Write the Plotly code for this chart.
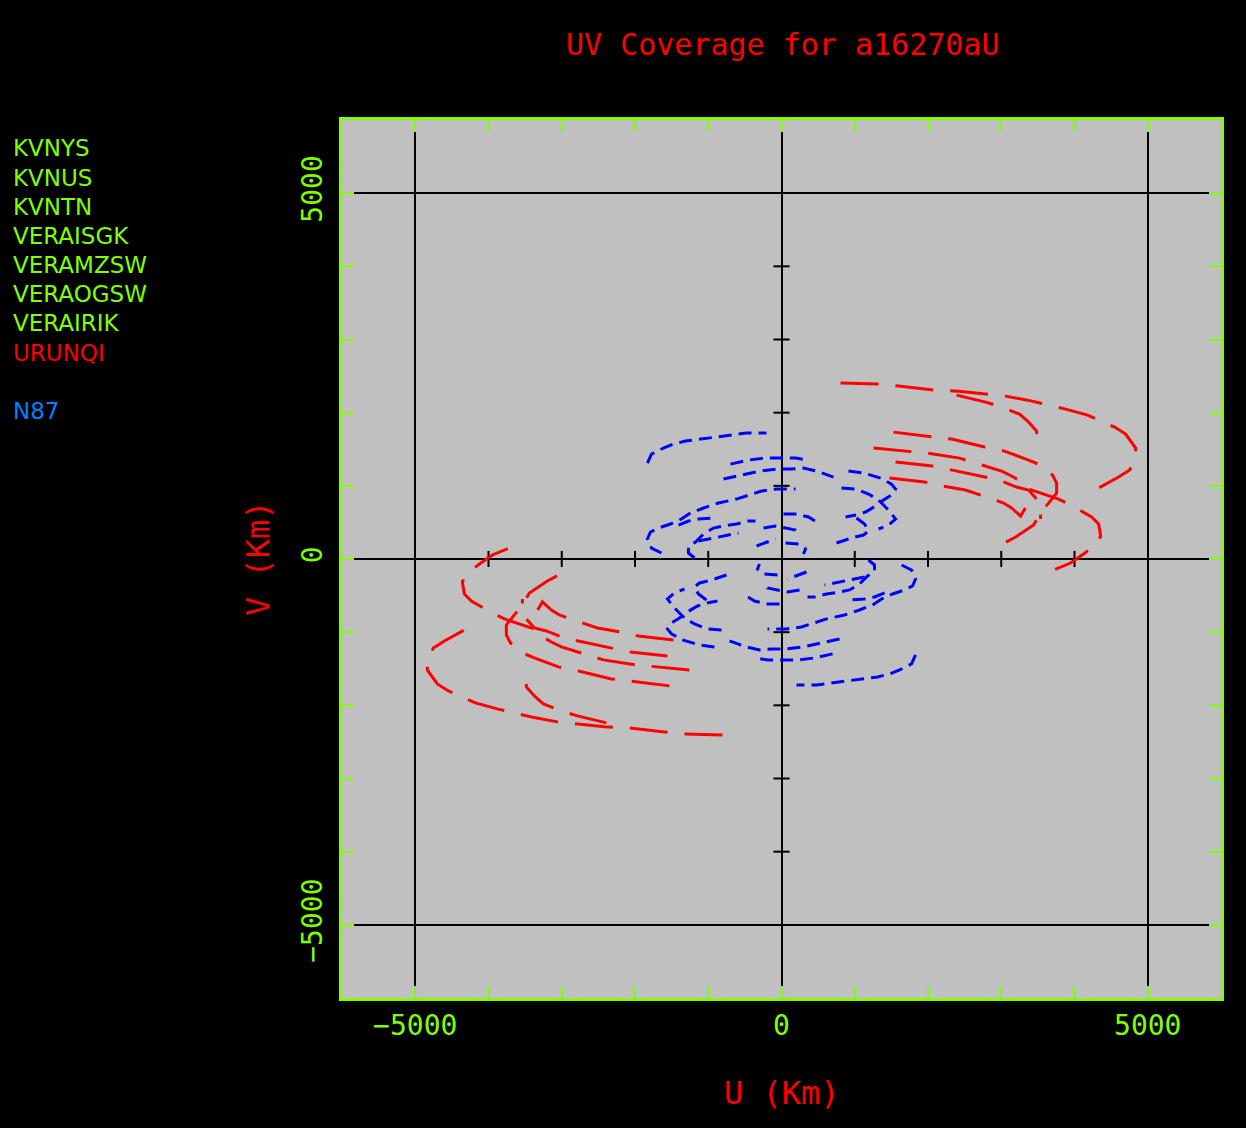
import plotly.graph_objects as go

# ---------------- data (km) ----------------
# Blue tracks (N87 baselines) - one half of each track; the conjugate (-u,-v) is also plotted
B1_U = [-1830, -1775, -1612, -1475, -1311, -1106, -929, -683, -478, -205]
B1_V = [1311, 1434, 1516, 1571, 1612, 1639, 1666, 1693, 1721, 1721]
B2_U = [-697, -451, -246, -41, 191, 369]
B2_V = [1297, 1352, 1379, 1379, 1379, 1352]
B3_U = [-792, -628, -478, -287, -68, 137, 300, 478, 710]
B3_V = [1093, 1134, 1161, 1202, 1229, 1229, 1243, 1202, 1120]
R1_U = [915, 1120, 1352, 1502, 1557, 1502, 1393, 1284, 1147, 1024, 874]
R1_V = [1202, 1175, 1106, 1024, 956, 874, 806, 724, 642, 601, 574]
R2_U = [819, 1011, 1188, 1325, 1461, 1557, 1461, 1325]
R2_V = [970, 956, 888, 806, 669, 546, 464, 410]
R3_U = [1024, 1134, 1188, 1120, 956, 751]
R3_V = [560, 478, 382, 328, 287, 219]
L1_U = [-1639, -1775, -1830, -1789, -1680, -1516, -1366, -1243, -1065, -860, -615, -451, -273, -68, 191]
L1_V = [82, 150, 273, 369, 423, 478, 546, 628, 697, 765, 819, 874, 929, 956, 956]
L2_U = [-1188, -1270, -1270, -1175, -1065, -929, -792, -615, -451, -355]
L2_V = [14, 82, 164, 232, 341, 423, 451, 478, 519, 519]
L3_U = [-1407, -1270, -1134, -901]
L3_V = [464, 519, 546, 560]
L4_U = [-1134, -860, -587]
L4_V = [246, 300, 355]
C1_U = [27, 205, 369, 478]
C1_V = [615, 615, 574, 505]
C2_U = [-246, -82, 55, 191, 246]
C2_V = [423, 451, 423, 396, 328]
C3_U = [-341, -205, -82]
C3_V = [178, 232, 273]
C4_U = [55, 232, 328, 300]
C4_V = [219, 205, 137, 68]

# Red tracks (URUMQI baselines)
A1_U = [806, 1352, 1598, 2090, 2417, 3059, 3360, 3879, 4179, 4548, 4698, 4835, 4835, 4753, 4602, 4329]
A1_V = [2404, 2390, 2363, 2308, 2294, 2226, 2171, 2049, 1967, 1803, 1707, 1516, 1407, 1215, 1120, 970]
A2_U = [2390, 2786, 3005, 3250, 3360, 3483, 3483, 3414]
A2_V = [2240, 2144, 2076, 1980, 1885, 1748, 1680, 1571]
A4_U = [1256, 1775, 1980, 2431, 2690, 3005, 3141, 3332, 3373, 3783, 4001, 4234, 4329, 4357, 4302, 4124, 3947, 3619]
A4_V = [1516, 1461, 1448, 1379, 1297, 1202, 1134, 1024, 956, 819, 710, 574, 478, 314, 205, 68, -55, -191]
A5_U = [1530, 2062, 2322, 2772, 3045, 3373, 3537, 3701, 3756, 3756, 3646, 3537, 3442, 3278, 3196, 3018]
A5_V = [1734, 1666, 1639, 1530, 1475, 1352, 1284, 1147, 1038, 901, 765, 628, 464, 355, 300, 205]
A6_U = [1557, 2062, 2267, 2704, 2964, 3209, 3373, 3510, 3537, 3537]
A6_V = [1325, 1270, 1229, 1134, 1079, 983, 942, 792, 656, 546]
A7_U = [1475, 1953, 2131, 2513, 2759, 3032, 3141, 3264, 3346]
A7_V = [1106, 1052, 1011, 942, 860, 765, 697, 587, 724]

BLUE_TRACKS = [(B1_U, B1_V), (B2_U, B2_V), (B3_U, B3_V), (R1_U, R1_V), (R2_U, R2_V),
               (R3_U, R3_V), (L1_U, L1_V), (L2_U, L2_V), (L3_U, L3_V), (L4_U, L4_V),
               (C1_U, C1_V), (C2_U, C2_V), (C3_U, C3_V), (C4_U, C4_V)]
RED_TRACKS = [(A1_U, A1_V), (A2_U, A2_V), (A4_U, A4_V), (A5_U, A5_V), (A6_U, A6_V), (A7_U, A7_V)]

STATIONS = ["KVNYS", "KVNUS", "KVNTN", "VERAISGK", "VERAMZSW", "VERAOGSW", "VERAIRIK", "URUNQI"]
STATION_COLORS = ["#80FF00"] * 7 + ["#FF0000"]
EXTRA_LABEL = "N87"

AXIS_RANGE = [-6000, 6000]
MAJOR_TICKS = [-5000, 0, 5000]
MAJOR_TEXT = ["\u22125000", "0", "5000"]
MINOR_TICKS = [-4000, -3000, -2000, -1000, 1000, 2000, 3000, 4000]
TICK_HALF = 110

TITLE = "UV Coverage for a16270aU"
XTITLE = "U (Km)"
YTITLE = "V (Km)"

# ---------------- figure ----------------
GREEN = "#80FF00"
RED = "#FF0000"
BLUE = "#0000FF"
FONT = "DejaVu Sans Mono"
LFONT = "DejaVu Sans"

fig = go.Figure()

# small black ticks on the zero axes
tx, ty = [], []
for t in MINOR_TICKS:
    tx += [t, t, None]
    ty += [-TICK_HALF, TICK_HALF, None]
    tx += [-TICK_HALF, TICK_HALF, None]
    ty += [t, t, None]
fig.add_trace(go.Scatter(x=tx, y=ty, mode="lines", line=dict(color="black", width=2),
                         hoverinfo="skip", showlegend=False))


def add_track(u, v, color, dash, width):
    for sign in (1, -1):
        fig.add_trace(go.Scatter(
            x=[sign * a for a in u], y=[sign * b for b in v], mode="lines",
            line=dict(color=color, width=width, dash=dash),
            hoverinfo="skip", showlegend=False))


for u, v in BLUE_TRACKS:
    add_track(u, v, BLUE, "13px,7px", 3)
for u, v in RED_TRACKS:
    add_track(u, v, RED, "38px,17px", 3)

axis_common = dict(
    range=AXIS_RANGE, tickvals=MAJOR_TICKS, ticktext=MAJOR_TEXT,
    showgrid=True, gridcolor="black", gridwidth=2,
    zeroline=True, zerolinecolor="black", zerolinewidth=2,
    showline=True, linecolor=GREEN, linewidth=3, mirror="allticks",
    ticks="inside", ticklen=12, tickwidth=2, tickcolor=GREEN,
    minor=dict(tickvals=MINOR_TICKS, ticks="inside", ticklen=12, tickwidth=2,
               tickcolor=GREEN, showgrid=False),
    tickfont=dict(family=FONT, size=28, color=GREEN),
    fixedrange=True,
)

W, H = 1246, 1128
L, R, T, B = 342, 1221, 120, 998

fig.update_layout(
    width=W, height=H,
    margin=dict(l=L, r=W - R, t=T, b=H - B),
    paper_bgcolor="black", plot_bgcolor="#C0C0C0",
    xaxis=dict(**axis_common, ticklabelstandoff=0),
    yaxis=dict(**axis_common, tickangle=-90, ticklabelstandoff=6),
    showlegend=False,
)


def px_x(px):
    return (px - L) / (R - L)


def px_y(py):
    return (B - py) / (B - T)


ann = [
    dict(text=TITLE, x=px_x(782), y=px_y(44), font=dict(family=FONT, size=30, color=RED),
         xanchor="center", yanchor="middle"),
    dict(text=XTITLE, x=px_x(782), y=px_y(1093), font=dict(family=FONT, size=32, color=RED),
         xanchor="center", yanchor="middle"),
    dict(text=YTITLE, x=px_x(258), y=px_y(558), font=dict(family=FONT, size=32, color=RED),
         xanchor="center", yanchor="middle", textangle=-90),
]
label_y = [148, 178, 207, 236, 265, 294, 323, 353]
for name, col, yy in zip(STATIONS, STATION_COLORS, label_y):
    ann.append(dict(text=name, x=px_x(11), y=px_y(yy), xanchor="left", yanchor="middle",
                    font=dict(family=LFONT, size=23, color=col)))
ann.append(dict(text=EXTRA_LABEL, x=px_x(11), y=px_y(411), xanchor="left", yanchor="middle",
                font=dict(family=LFONT, size=23, color="#0080FF")))
for a in ann:
    a.update(xref="paper", yref="paper", showarrow=False)
fig.update_layout(annotations=ann)

fig.write_html("out.html")
